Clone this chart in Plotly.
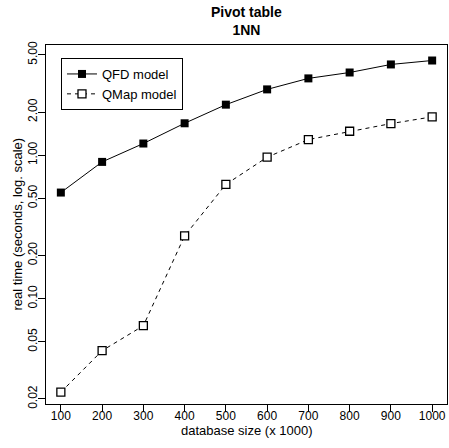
import plotly.graph_objects as go

db_size = [100, 200, 300, 400, 500, 600, 700, 800, 900, 1000]
qfd_time = [0.549, 0.898, 1.206, 1.669, 2.25, 2.875, 3.43, 3.77, 4.29, 4.57]
qmap_time = [0.0223, 0.0434, 0.0648, 0.274, 0.626, 0.968, 1.285, 1.468, 1.66, 1.85]

y_tickvals = [0.02, 0.05, 0.10, 0.20, 0.50, 1.00, 2.00, 5.00]
y_ticktext = ["0.02", "0.05", "0.10", "0.20", "0.50", "1.00", "2.00", "5.00"]
x_tickvals = db_size

FONT = "Liberation Sans, Arial, Helvetica, sans-serif"

fig = go.Figure()
fig.add_trace(go.Scatter(
    x=db_size, y=qfd_time, name="QFD model", mode="lines+markers",
    line=dict(color="black", width=1),
    marker=dict(symbol="square", size=8, color="black", line=dict(width=0)),
))
fig.add_trace(go.Scatter(
    x=db_size, y=qmap_time, name="QMap model", mode="lines+markers",
    line=dict(color="black", width=1, dash="4px,4px"),
    marker=dict(symbol="square", size=8, color="white", line=dict(color="black", width=1.3)),
))

fig.update_layout(
    width=449, height=448,
    margin=dict(l=46, r=2, t=45, b=44),
    paper_bgcolor="white", plot_bgcolor="white",
    font=dict(family=FONT, size=12, color="black"),
    showlegend=True,
    legend=dict(x=0.0374, y=0.9638, xanchor="left", yanchor="top",
                bordercolor="black", borderwidth=1, bgcolor="white",
                font=dict(family=FONT, size=13), tracegroupgap=0,
                itemwidth=30),
    xaxis=dict(range=[64, 1036], tickvals=x_tickvals, ticks="outside", ticklen=7,
               tickcolor="black", showline=True, linecolor="black", linewidth=1,
               mirror=True, showgrid=False, zeroline=False, ticklabelstandoff=-6,
               tickfont=dict(family=FONT, size=12)),
    yaxis=dict(type="log", range=[-1.734, 0.768], tickvals=y_tickvals, ticktext=y_ticktext,
               ticks="outside", ticklen=7, tickcolor="black", tickangle=-90,
               ticklabelstandoff=-4,
               showline=True, linecolor="black", linewidth=1, mirror=True,
               showgrid=False, zeroline=False, tickfont=dict(family=FONT, size=12)),
    annotations=[
        dict(text="<b>Pivot table<br>1NN</b>", x=0.5, xref="paper", y=1, yref="paper",
             xanchor="center", yanchor="bottom", yshift=5, showarrow=False,
             font=dict(family=FONT, size=14)),
        dict(text="database size (x 1000)", x=0.5, xref="paper", y=0, yref="paper",
             xanchor="center", yanchor="middle", yshift=-26, showarrow=False,
             font=dict(family=FONT, size=13)),
        dict(text="real time (seconds, log. scale)", x=0, xref="paper", y=0.5, yref="paper",
             xanchor="center", yanchor="middle", xshift=-29, textangle=-90, showarrow=False,
             font=dict(family=FONT, size=13)),
    ],
)

fig.write_html("out.html", config={"displayModeBar": False},
               post_script="document.body.style.margin='0';document.body.style.overflow='hidden';")
